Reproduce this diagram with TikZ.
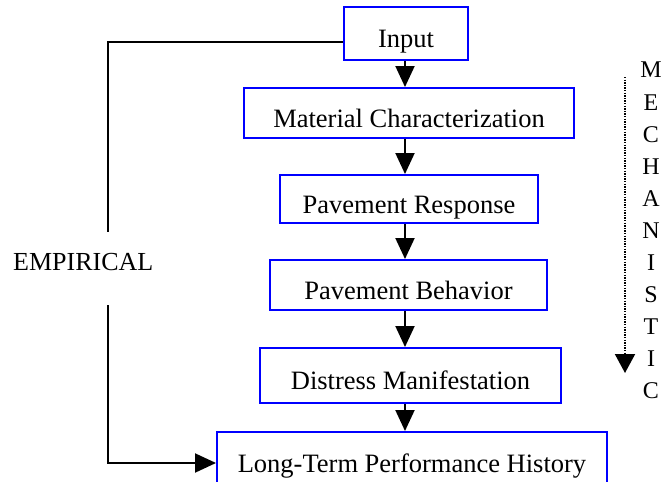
\documentclass[tikz,border=0pt]{standalone}
\usepackage{fontspec}
\setmainfont{Liberation Serif}
\usetikzlibrary{arrows.meta}
\begin{document}
\begin{tikzpicture}[x=1pt,y=-1pt,
  stagebox/.style={draw=blue, line width=2pt, inner sep=0pt, text height=28pt, text depth=0pt,
    font=\fontsize{26.5}{30}\selectfont},
  flow/.style={line width=2pt, -{Triangle[width=19pt,length=21pt]}},
  link/.style={line width=2pt}]
\useasboundingbox (0,0) rectangle (665,482);
\node[stagebox, minimum width=124pt, minimum height=53pt] (input) at (406,33.5) {Input};
\node[stagebox, minimum width=330pt, minimum height=50pt] (mat) at (409,113) {Material Characterization};
\node[stagebox, minimum width=258pt, minimum height=48pt] (resp) at (409,199) {Pavement Response};
\node[stagebox, minimum width=277pt, minimum height=50pt] (beh) at (408.5,285) {Pavement Behavior};
\node[stagebox, minimum width=301pt, minimum height=55pt] (dist) at (410.5,375.5) {Distress Manifestation};
\node[stagebox, minimum width=390pt, minimum height=58pt, text height=22pt] (lt) at (412,461) {Long-Term Performance History};
\coordinate (ax) at (405,0);
\draw[flow] (input.south -| ax) -- (mat.north -| ax);
\draw[flow] (mat.south -| ax) -- (resp.north -| ax);
\draw[flow] (resp.south -| ax) -- (beh.north -| ax);
\draw[flow] (beh.south -| ax) -- (dist.north -| ax);
\draw[flow] (dist.south -| ax) -- (lt.north -| ax);
% empirical path
\coordinate (etop) at (108,42);
\coordinate (etopend) at (108,232);
\coordinate (ebotstart) at (108,305);
\coordinate (ebot) at (108,463);
\draw[link] (input.west |- etop) -- (etop) -- (etopend);
\draw[flow] (ebotstart) -- (ebot) -- (ebot -| lt.west);
\node[anchor=base west, inner sep=0pt, font=\fontsize{26}{30}\selectfont] (emp) at (13,270) {EMPIRICAL};
% mechanistic
\coordinate (mtop) at (625,77);
\coordinate (mtip) at (625,373);
\draw[line width=2pt, dash pattern=on 1.3pt off 1.3pt, line cap=butt, -{Triangle[width=20pt,length=19pt]}] (mtop) -- (mtip);
\node[anchor=north, inner sep=0pt, align=center, font=\fontsize{24}{32.1}\selectfont] (mech) at (651,62)
  {M\\E\\C\\H\\A\\N\\I\\S\\T\\I\\C};
\end{tikzpicture}
\end{document}
